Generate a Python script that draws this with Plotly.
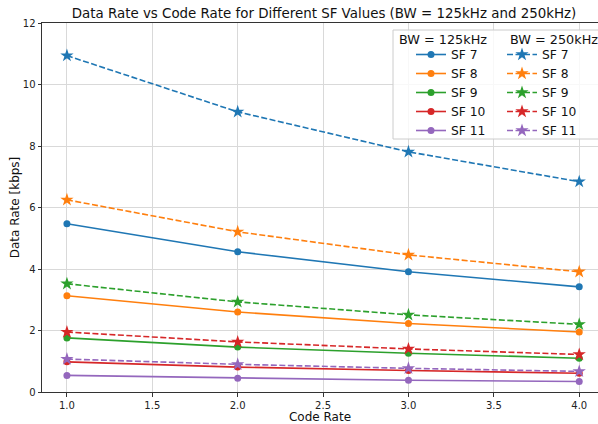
import plotly.graph_objects as go

code_rate = [1.0, 2.0, 3.0, 4.0]
sf_labels = ["SF 7", "SF 8", "SF 9", "SF 10", "SF 11"]
colors = ["#1f77b4", "#ff7f0e", "#2ca02c", "#d62728", "#9467bd"]

dr_125 = [
    [5.47, 4.56, 3.91, 3.42],
    [3.13, 2.60, 2.23, 1.95],
    [1.76, 1.46, 1.26, 1.10],
    [0.98, 0.81, 0.70, 0.61],
    [0.54, 0.45, 0.38, 0.34],
]
dr_250 = [
    [10.94, 9.11, 7.81, 6.84],
    [6.25, 5.21, 4.46, 3.91],
    [3.52, 2.93, 2.51, 2.20],
    [1.95, 1.63, 1.40, 1.22],
    [1.07, 0.90, 0.77, 0.67],
]

x_ticks = [1.0, 1.5, 2.0, 2.5, 3.0, 3.5, 4.0]
y_ticks = [0, 2, 4, 6, 8, 10, 12]

FONT = "DejaVu Sans"
fig = go.Figure()

for i, lab in enumerate(sf_labels):
    fig.add_trace(go.Scatter(
        x=code_rate, y=dr_125[i], mode="lines+markers", name=lab,
        line=dict(color=colors[i], width=1.6),
        marker=dict(symbol="circle", size=7, color=colors[i]),
        legend="legend",
    ))
for i, lab in enumerate(sf_labels):
    fig.add_trace(go.Scatter(
        x=code_rate, y=dr_250[i], mode="lines+markers", name=lab,
        line=dict(color=colors[i], width=1.6, dash="6px,2.5px"),
        marker=dict(symbol="star", size=10, color=colors[i]),
        legend="legend2",
    ))

LEG_TOP = 1 - (40 - 23) / 369
fig.update_layout(
    width=598, height=424,
    margin=dict(l=42, r=0, t=23, b=32),
    paper_bgcolor="white", plot_bgcolor="white",
    font=dict(family=FONT, size=10, color="#222"),
    title=dict(text="Data Rate vs Code Rate for Different SF Values (BW = 125kHz and 250kHz)",
               font=dict(family=FONT, size=13.4, color="#111"),
               x=(324 - 42) / 556, xref="paper", xanchor="center",
               y=1, yref="container", yanchor="top", pad=dict(t=9)),
    showlegend=True,
    legend=dict(x=(411 - 42) / 556, xanchor="left", y=LEG_TOP, yanchor="top",
                bgcolor="rgba(0,0,0,0)", font=dict(family=FONT, size=12.3, color="#111"),
                tracegroupgap=0, itemwidth=30),
    legend2=dict(x=(502 - 42) / 556, xanchor="left", y=LEG_TOP, yanchor="top",
                 bgcolor="rgba(0,0,0,0)", font=dict(family=FONT, size=12.3, color="#111"),
                 tracegroupgap=0, itemwidth=30),
    shapes=[dict(type="rect", xref="paper", yref="paper",
                 x0=(393 - 42) / 556, x1=1.05, y0=1 - (139 - 23) / 369, y1=1 - (30 - 23) / 369,
                 line=dict(color="#cccccc", width=1), fillcolor="rgba(255,255,255,0.8)", layer="above")],
    annotations=[
        dict(text="BW = 125kHz", xref="paper", yref="paper", x=(397 - 42) / 556, y=1 - (39 - 23) / 369,
             xanchor="left", yanchor="middle", showarrow=False, font=dict(family=FONT, size=12.8, color="#111")),
        dict(text="BW = 250kHz", xref="paper", yref="paper", x=(508 - 42) / 556, y=1 - (39 - 23) / 369,
             xanchor="left", yanchor="middle", showarrow=False, font=dict(family=FONT, size=12.8, color="#111")),
    ],
)

fig.update_xaxes(
    range=[0.854, 4.11], tickvals=x_ticks, tickformat=".1f",
    showgrid=True, gridcolor="#d9d9d9", gridwidth=0.8,
    showline=True, linecolor="#333", linewidth=1, mirror=True,
    ticks="outside", ticklen=3.5, tickcolor="#333",
    title=dict(text="Code Rate", font=dict(family=FONT, size=12, color="#111"), standoff=2),
    zeroline=False,
)
fig.update_yaxes(
    range=[0, 12], tickvals=y_ticks,
    showgrid=True, gridcolor="#d9d9d9", gridwidth=0.8,
    showline=True, linecolor="#333", linewidth=1, mirror=False,
    ticks="outside", ticklen=3.5, tickcolor="#333",
    title=dict(text="Data Rate [kbps]", font=dict(family=FONT, size=12, color="#111"), standoff=0),
    zeroline=False,
)

fig.write_html("out.html")
